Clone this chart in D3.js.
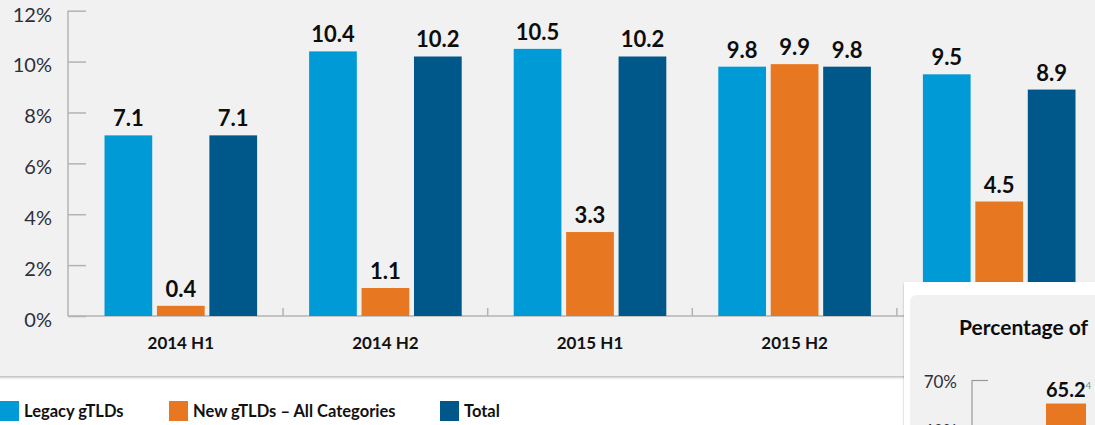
<!DOCTYPE html>
<html>
<head>
<meta charset="utf-8">
<script src="https://cdn.jsdelivr.net/npm/d3@7"></script>
<style>
  html, body { margin: 0; padding: 0; background: #fff; }
  svg { display: block; font-family: Lato, "Noto Sans", sans-serif; }
</style>
</head>
<body>
<div id="chart"></div>
<script>
// data
const categories = ["2014 H1", "2014 H2", "2015 H1", "2015 H2", "2016 H1"];
const seriesNames = ["Legacy gTLDs", "New gTLDs – All Categories", "Total"];
const legacy = [7.1, 10.4, 10.5, 9.8, 9.5];
const newGtlds = [0.4, 1.1, 3.3, 9.9, 4.5];
const total = [7.1, 10.2, 10.2, 9.8, 8.9];
const yTicks = [0, 2, 4, 6, 8, 10, 12];

// second (partly visible) chart in the corner
const insetTitle = "Percentage of";
const insetTicks = [60, 70];
const insetValues = [65.2];
const insetNotes = ["4"];

const colors = ["#009bd6", "#e87722", "#00578a"];

const W = 1095, H = 425;

const svg = d3.select("#chart").append("svg")
  .attr("width", W)
  .attr("height", H);

const defs = svg.append("defs");
const shadow = defs.append("filter").attr("id", "shadow")
  .attr("x", "-5%").attr("y", "-5%").attr("width", "110%").attr("height", "115%");
shadow.append("feDropShadow")
  .attr("dx", 0).attr("dy", 1.5).attr("stdDeviation", 1.2)
  .attr("flood-color", "#000").attr("flood-opacity", 0.28);

// the corner card hides part of the main chart
defs.append("clipPath").attr("id", "mainClip")
  .append("path")
  .attr("d", `M-20,-20H${W + 20}V282H904V${H + 20}H-20Z`);

// main grey panel
svg.append("rect")
  .attr("x", -10).attr("y", -10)
  .attr("width", W + 20).attr("height", 386)
  .attr("fill", "#f1f1f1")
  .attr("filter", "url(#shadow)");

const rows = categories.map((c, i) => ({ cat: c, values: [legacy[i], newGtlds[i], total[i]] }));

const y = d3.scaleLinear().domain([0, 12]).range([316, 10.7]);
const x0 = d3.scaleBand().domain(categories).range([78.5, 1101.5]);
const x1 = d3.scaleBand().domain(seriesNames)
  .range([26, x0.bandwidth() - 26])
  .paddingInner(0.09);

const main = svg.append("g").attr("clip-path", "url(#mainClip)");

// y axis (ticks point inwards, labels end at x=52)
const yAxis = main.append("g")
  .attr("transform", "translate(68,0)")
  .call(d3.axisLeft(y).tickValues(yTicks).tickFormat(d => d + "%").tickSize(-18).tickPadding(16));
yAxis.select(".domain").attr("stroke", "#b3b3b3").attr("stroke-width", 1.5)
  .attr("d", `M0,${y(12)}V${y(0)}`);
yAxis.selectAll(".tick line").attr("stroke", "#b3b3b3").attr("stroke-width", 1.5);
yAxis.selectAll(".tick text")
  .attr("dy", "0.52em")
  .attr("fill", "#2e2e38")
  .style("font-size", "20px")
  .style("font-family", "Lato, sans-serif");

// baseline and category separators
main.append("line")
  .attr("x1", 68).attr("x2", W + 10)
  .attr("y1", y(0)).attr("y2", y(0))
  .attr("stroke", "#b3b3b3").attr("stroke-width", 1.5);

main.append("g").selectAll("line")
  .data(categories)
  .join("line")
  .attr("x1", d => x0(d) + x0.bandwidth())
  .attr("x2", d => x0(d) + x0.bandwidth())
  .attr("y1", y(0)).attr("y2", y(0) - 8)
  .attr("stroke", "#b3b3b3").attr("stroke-width", 1.5);

// x labels (the last one sits under the corner card)
main.append("g").selectAll("text")
  .data(categories.filter(c => x0(c) + x0.bandwidth() / 2 < 904))
  .join("text")
  .attr("x", d => x0(d) + x0.bandwidth() / 2)
  .attr("y", 349)
  .attr("text-anchor", "middle")
  .attr("fill", "#111")
  .style("font-size", "17px")
  .style("font-weight", "bold")
  .text(d => d);

// bars
const groups = main.append("g").selectAll("g")
  .data(rows)
  .join("g")
  .attr("transform", d => `translate(${x0(d.cat)},0)`);

const cells = groups.selectAll("g")
  .data(d => d.values.map((v, i) => ({ name: seriesNames[i], value: v, idx: i })))
  .join("g");

cells.append("rect")
  .attr("x", d => x1(d.name))
  .attr("width", x1.bandwidth())
  .attr("y", d => y(d.value))
  .attr("height", d => y(0) - y(d.value))
  .attr("fill", d => colors[d.idx]);

cells.append("text")
  .attr("x", d => x1(d.name) + x1.bandwidth() / 2)
  .attr("y", d => y(d.value) - 9)
  .attr("text-anchor", "middle")
  .attr("fill", "#0d0d0d")
  .style("font-size", "22px")
  .style("font-weight", "bold")
  .text(d => d3.format(".1f")(d.value));

// legend
const legendX = [0, 169, 440];
const legend = svg.append("g").selectAll("g")
  .data(seriesNames)
  .join("g")
  .attr("transform", (d, i) => `translate(${legendX[i]},401)`);
legend.append("rect")
  .attr("width", 19).attr("height", 20)
  .attr("fill", (d, i) => colors[i]);
legend.append("text")
  .attr("x", 24).attr("y", 16)
  .attr("fill", "#111")
  .style("font-size", "16.5px")
  .style("font-weight", "bold")
  .text(d => d);

// overlapping card with the next chart
svg.append("rect")
  .attr("x", 904).attr("y", 282)
  .attr("width", 220).attr("height", 200)
  .attr("fill", "#fff")
  .attr("filter", "url(#shadow)");
svg.append("rect")
  .attr("x", 910).attr("y", 295)
  .attr("width", 220).attr("height", 200)
  .attr("rx", 7)
  .attr("fill", "#f1f1f1");

svg.append("text")
  .attr("x", 959).attr("y", 335)
  .attr("fill", "#0d0d0d")
  .style("font-size", "21px")
  .style("font-weight", "bold")
  .text(insetTitle);

const yi = d3.scaleLinear().domain([60, 70]).range([429, 380]);
const insetAxis = svg.append("g")
  .attr("transform", "translate(972,0)")
  .call(d3.axisLeft(yi).tickValues(insetTicks).tickFormat(d => d + "%").tickSize(-16).tickPadding(15));
insetAxis.select(".domain").attr("stroke", "#999").attr("stroke-width", 1.2)
  .attr("d", `M0,${yi(70)}V${H + 10}`);
insetAxis.selectAll(".tick line").attr("stroke", "#999").attr("stroke-width", 1.2);
insetAxis.selectAll(".tick text")
  .attr("dy", "0.45em")
  .attr("fill", "#2e2e38")
  .style("font-size", "17px")
  .style("font-family", "Lato, sans-serif");

const insetBars = svg.append("g").selectAll("g")
  .data(insetValues)
  .join("g");
insetBars.append("rect")
  .attr("x", 1046).attr("width", 40)
  .attr("y", d => yi(d))
  .attr("height", d => H + 10 - yi(d))
  .attr("fill", colors[1]);
const insetLabel = insetBars.append("text")
  .attr("x", 1046)
  .attr("y", d => yi(d) - 7)
  .attr("fill", "#0d0d0d")
  .style("font-size", "20px")
  .style("font-weight", "bold");
insetLabel.append("tspan").text(d => d3.format(".1f")(d));
insetLabel.append("tspan")
  .attr("dy", -8)
  .attr("fill", "#888")
  .style("font-size", "10px")
  .style("font-weight", "normal")
  .text((d, i) => insetNotes[i]);
</script>
</body>
</html>
